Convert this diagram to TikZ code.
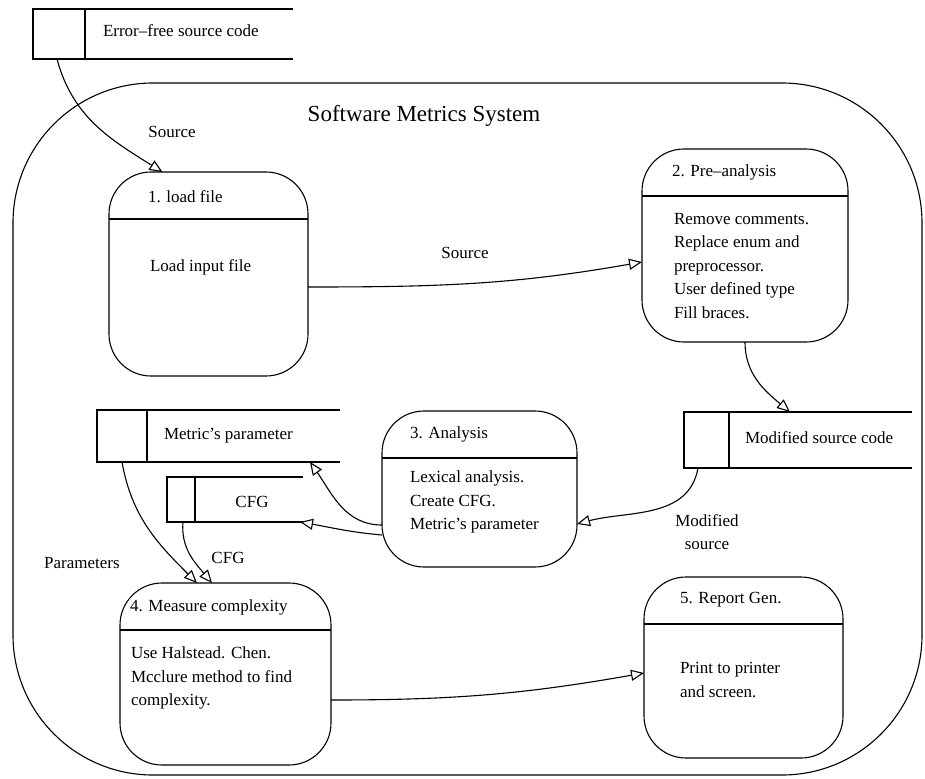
\documentclass[tikz,border=0pt]{standalone}
\usepackage{fontspec}
\setmainfont{Liberation Serif}
\usetikzlibrary{arrows.meta}

\tikzset{
  proc/.style={draw, rounded corners=42pt},
  storebox/.style={},
  txt/.style={anchor=west, align=left},
  flow/.style={-{Triangle[open,length=13pt,width=11pt]}},
}

\begin{document}
\begin{tikzpicture}[x=1pt, y=-1pt, line width=1.1pt,
    every node/.append style={inner sep=0pt, outer sep=0pt},
    font=\fontsize{17}{23.5}\selectfont]
  \useasboundingbox[fill=white] (0,0) rectangle (925,778);

  % system boundary
  \node[draw, rounded corners=140pt, minimum width=909pt, minimum height=692pt] (sys) at (467.5,429) {};
  \node[font=\fontsize{23}{27}\selectfont] (title) at (424,116) {Software Metrics System};

  % processes
  \node[proc, minimum width=199pt, minimum height=204pt] (load) at (208.5,274) {};
  \node[proc, minimum width=206pt, minimum height=193pt] (pre) at (745,245.5) {};
  \node[proc, minimum width=195pt, minimum height=156pt] (ana) at (479.5,489) {};
  \node[proc, minimum width=211pt, minimum height=182pt] (meas) at (225.5,674) {};
  \node[proc, minimum width=199pt, minimum height=181pt] (rep) at (743.5,667.5) {};
  \draw ([yshift=-47pt]load.north west) -- ([yshift=-47pt]load.north east);
  \draw ([yshift=-47pt]pre.north west) -- ([yshift=-47pt]pre.north east);
  \draw ([yshift=-47pt]ana.north west) -- ([yshift=-47pt]ana.north east);
  \draw ([yshift=-47pt]meas.north west) -- ([yshift=-47pt]meas.north east);
  \draw ([yshift=-47pt]rep.north west) -- ([yshift=-47pt]rep.north east);

  \node[txt] (loadhd) at (148,197) {1. load file};
  \node[txt] (prehd) at (672,172) {2. Pre--analysis};
  \node[txt] (anahd) at (410,434) {3. Analysis};
  \node[txt] (meashd) at (130,607) {4. Measure complexity};
  \node[txt] (rephd) at (680,600) {5. Report Gen.};

  \node[txt] (loadbd) at (150,267) {Load input file};
  \node[txt] (prebd) at (674,266) {Remove comments.\\Replace enum and\\preprocessor.\\User defined type\\Fill braces.};
  \node[txt] (anabd) at (410,502) {Lexical analysis.\\Create CFG.\\Metric's parameter};
  \node[txt] (measbd) at (131,678) {Use Halstead. Chen.\\Mcclure method to find\\complexity.};
  \node[txt] (repbd) at (680,680) {Print to printer\\and screen.};

  % data stores
  \node[storebox, minimum width=260pt, minimum height=50pt] (efs) at (163,34) {};
  \node[storebox, minimum width=243pt, minimum height=52pt] (mp) at (218.5,436) {};
  \node[storebox, minimum width=136pt, minimum height=45pt] (cfg) at (235,499.5) {};
  \node[storebox, minimum width=228pt, minimum height=56pt] (mod) at (798,440) {};
  \draw (efs.north east) -- (efs.north west) -- (efs.south west) -- (efs.south east)
        ([xshift=52pt]efs.north west) -- ([xshift=52pt]efs.south west);
  \draw (mp.north east) -- (mp.north west) -- (mp.south west) -- (mp.south east)
        ([xshift=50pt]mp.north west) -- ([xshift=50pt]mp.south west);
  \draw (cfg.north east) -- (cfg.north west) -- (cfg.south west) -- (cfg.south east)
        ([xshift=28pt]cfg.north west) -- ([xshift=28pt]cfg.south west);
  \draw (mod.north east) -- (mod.north west) -- (mod.south west) -- (mod.south east)
        ([xshift=45pt]mod.north west) -- ([xshift=45pt]mod.south west);

  \node[txt] (efstx) at (103,31) {Error--free source code};
  \node[txt] (mptx) at (164,436) {Metric's parameter};
  \node (cfgtx) at (252,502) {CFG};
  \node[txt] (modtx) at (745,438) {Modified source code};

  % data flows
  \draw[flow] ([xshift=24pt]efs.south west) to[out=-75, in=148] ([xshift=-46pt]load.north);
  \draw[flow] ([yshift=-13pt]load.east) to[out=0, in=190] ([yshift=-16.5pt]pre.west);
  \draw[flow] (pre.south) to[out=-90, in=140] ([xshift=106pt]mod.north west);
  \draw[flow] ([xshift=14pt]mod.south west) to[out=-100, in=15] ([yshift=-35pt]ana.east);
  \draw[flow] ([yshift=-36pt]ana.west) to[out=180, in=-55] ([xshift=213pt]mp.south west);
  \draw[flow] ([yshift=-46pt]ana.west) to[out=175, in=-10] ([xshift=-3pt]cfg.south east);
  \draw[flow] ([xshift=25pt]mp.south west) to[out=-80, in=135] ([xshift=-28.5pt]meas.north);
  \draw[flow] ([xshift=16pt]cfg.south west) to[out=-95, in=130] ([xshift=-13.5pt]meas.north);
  \draw[flow] ([yshift=-26pt]meas.east) to[out=0, in=190] ([yshift=-5.5pt]rep.west);

  \node (src1) at (172,132) {Source};
  \node (src2) at (465,253) {Source};
  \node[align=center] (modsrc) at (707,532) {Modified\\source};
  \node (par) at (82,563) {Parameters};
  \node (cfglbl) at (228,558) {CFG};
\end{tikzpicture}
\end{document}
